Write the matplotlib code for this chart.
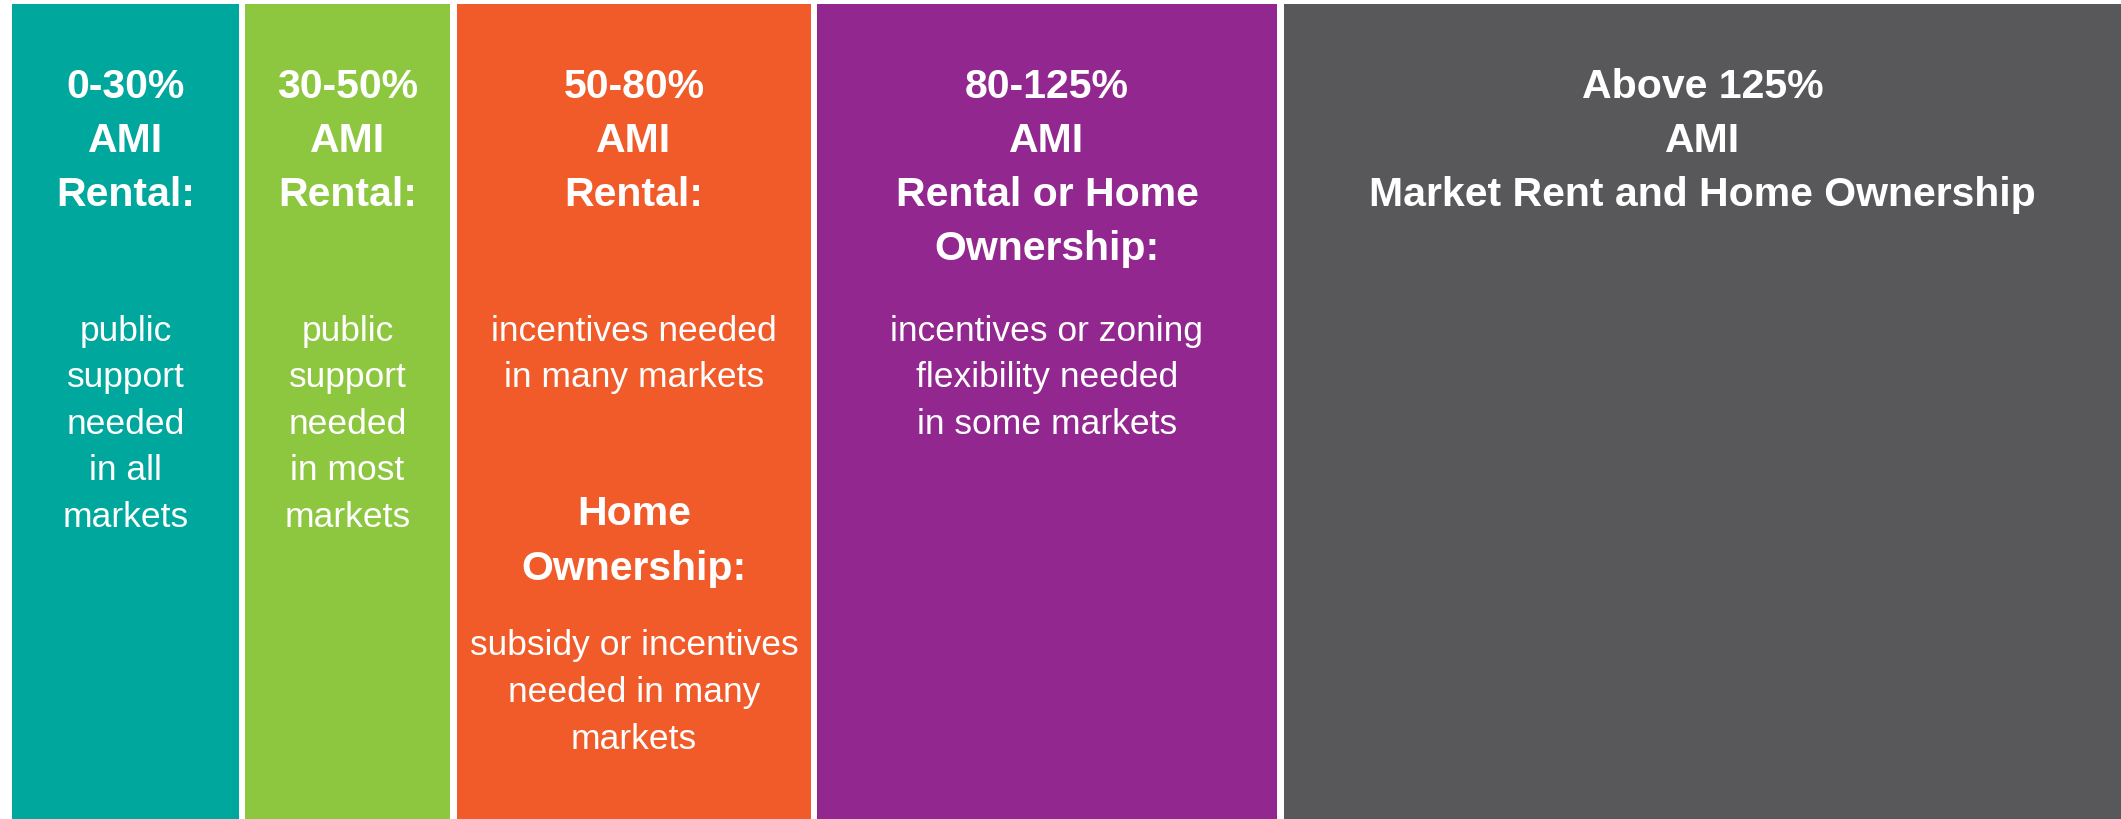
import matplotlib.pyplot as plt

# data
titles = [['0-30%', 'AMI', 'Rental:'],
          ['30-50%', 'AMI', 'Rental:'],
          ['50-80%', 'AMI', 'Rental:'],
          ['80-125%', 'AMI', 'Rental or Home', 'Ownership:'],
          ['Above 125%', 'AMI', 'Market Rent and Home Ownership']]
notes = [['public', 'support', 'needed', 'in all', 'markets'],
         ['public', 'support', 'needed', 'in most', 'markets'],
         ['incentives needed', 'in many markets'],
         ['incentives or zoning', 'flexibility needed', 'in some markets'],
         []]
extra_title = ['Home', 'Ownership:']
extra_note = ['subsidy or incentives', 'needed in many', 'markets']
colors = ['#00A79D', '#8DC63F', '#F15A29', '#92278F', '#58585A']

# layout (pixels)
W, H = 2121, 820
lefts = [12, 245, 457, 817, 1284]
rights = [239, 450, 811, 1277, 2121]
top = 5
family = 'Liberation Sans'

fig = plt.figure(figsize=(W / 100, H / 100), dpi=100)
ax = fig.add_axes([0, 0, 1, 1])
ax.set_xlim(0, W)
ax.set_ylim(H, 0)
ax.axis('off')

widths = [r - l for l, r in zip(lefts, rights)]
ax.bar(lefts, H - top, width=widths, bottom=top, align='edge', color=colors, linewidth=0)


def block(cx, y0, lines, step, bold):
    for k, s in enumerate(lines):
        ax.text(cx, y0 + k * step, s, ha='center', va='baseline', color='white',
                fontsize=29.5 if bold else 25.5,
                fontweight='bold' if bold else 'normal', family=family)


for i in range(5):
    cx = (lefts[i] + rights[i]) / 2
    block(cx, 98, titles[i], 54, True)
    block(cx, 341, notes[i], 46.5, False)

cx = (lefts[2] + rights[2]) / 2
block(cx, 525, extra_title, 55, True)
block(cx, 655, extra_note, 47, False)

fig.savefig('out.png', dpi=100)
